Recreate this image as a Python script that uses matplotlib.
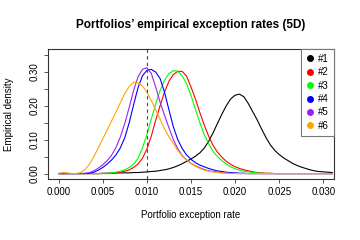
import numpy as np
import matplotlib
matplotlib.use("Agg")
import matplotlib.pyplot as plt
from matplotlib.lines import Line2D

plt.rcParams['font.family'] = ['Liberation Sans', 'DejaVu Sans']

# exception rate grid, step 0.0005 from 0 to 0.031
rate = np.round(np.arange(0, 0.0315, 0.0005), 4)

dens1 = [0]*10 + [0.001, 0.001, 0.001, 0.002, 0.002, 0.002, 0.002, 0.003, 0.003, 0.004,
                  0.005, 0.006, 0.007, 0.009, 0.011, 0.014, 0.018, 0.023, 0.029, 0.036,
                  0.043, 0.051, 0.061, 0.075, 0.095, 0.120, 0.148, 0.175, 0.200, 0.220,
                  0.231, 0.234, 0.226, 0.206, 0.182, 0.158, 0.131, 0.106, 0.084, 0.068,
                  0.056, 0.046, 0.038, 0.030, 0.024, 0.019, 0.015, 0.011, 0.008, 0.006,
                  0.005, 0.004, 0.003]
dens2 = [0]*12 + [0.001, 0.002, 0.004, 0.007, 0.011, 0.018, 0.028, 0.045,
                  0.072, 0.110, 0.157, 0.200, 0.240, 0.272, 0.292, 0.301, 0.301, 0.287,
                  0.255, 0.220, 0.180, 0.143, 0.110, 0.083, 0.063, 0.048, 0.036, 0.027,
                  0.020, 0.015, 0.011, 0.008, 0.005, 0.003, 0.002, 0.001, 0.001] + [0]*14
dens3 = [0]*11 + [0.001, 0.002, 0.004, 0.007, 0.011, 0.018, 0.028, 0.045, 0.075,
                  0.115, 0.160, 0.205, 0.245, 0.275, 0.295, 0.303, 0.302, 0.288, 0.265,
                  0.230, 0.190, 0.150, 0.115, 0.088, 0.065, 0.050, 0.038, 0.028, 0.020,
                  0.014, 0.010, 0.007, 0.005, 0.003, 0.002, 0.001] + [0]*16
dens4 = [0]*7 + [0.001, 0.004, 0.010,
                 0.018, 0.028, 0.040, 0.055, 0.076, 0.106, 0.150, 0.203, 0.253, 0.288,
                 0.304, 0.307, 0.299, 0.280, 0.240, 0.188, 0.138, 0.100, 0.074, 0.055,
                 0.042, 0.032, 0.025, 0.020, 0.015, 0.011, 0.008, 0.006, 0.004, 0.003,
                 0.002, 0.001, 0.001] + [0]*20
dens5 = [0]*6 + [0.001, 0.003, 0.008, 0.016,
                 0.026, 0.038, 0.054, 0.077, 0.108, 0.148, 0.195, 0.245, 0.285, 0.307,
                 0.312, 0.295, 0.255, 0.210, 0.172, 0.135, 0.100, 0.073, 0.053, 0.040,
                 0.030, 0.023, 0.017, 0.012, 0.008, 0.006, 0.004, 0.003, 0.002, 0.001,
                 0.001] + [0]*22
dens6 = [0.001, 0.003, 0.002, 0, 0, 0.003, 0.012, 0.028, 0.050, 0.076,
         0.102, 0.128, 0.155, 0.181, 0.209, 0.236, 0.257, 0.269, 0.268, 0.258,
         0.240, 0.215, 0.188, 0.160, 0.132, 0.108, 0.088, 0.068, 0.052, 0.040,
         0.030, 0.022, 0.015, 0.010, 0.007, 0.005, 0.003, 0.002, 0.001] + [0]*24

labels = ['#1', '#2', '#3', '#4', '#5', '#6']
colors = ['black', '#FF0000', '#00FF00', '#0000FF', '#A020F0', '#FFA500']
target = 0.01

fig = plt.figure(figsize=(3.6, 2.4), dpi=100)
ax = fig.add_axes([48/360, 1-179/240, (334-48)/360, (179-49)/240])

for d, col in zip([dens1, dens2, dens3, dens4, dens5, dens6], colors):
    ax.plot(rate, d, color=col, lw=0.8)

ax.axvline(target, color='#444444', lw=0.8, linestyle=(0, (3, 3)))

ax.set_xlim(-0.0012, 0.0312)
ax.set_ylim(-0.016, 0.367)
ax.set_xticks([0, 0.005, 0.01, 0.015, 0.02, 0.025, 0.03])
ax.set_xticklabels(['0.000', '0.005', '0.010', '0.015', '0.020', '0.025', '0.030'])
ax.set_yticks([0, 0.05, 0.1, 0.15, 0.2, 0.25, 0.3, 0.35])
ax.set_yticklabels(['0.00', '', '0.10', '', '0.20', '', '0.30', ''], rotation=90, va='center')
ax.tick_params(labelsize=7, length=3, width=0.7, color='#555555', pad=3)
for s in ax.spines.values():
    s.set_color('#333333')
    s.set_linewidth(0.8)

ax.set_title("Portfolios\u2019 empirical exception rates (5D)", fontsize=8.5, fontweight='bold', pad=15)
ax.set_xlabel('Portfolio exception rate', fontsize=7, labelpad=9)
ax.set_ylabel('Empirical density', fontsize=7, labelpad=11)

handles = [Line2D([], [], marker='o', ls='', color=c, markersize=4) for c in colors]
leg = ax.legend(handles, labels, loc='upper right', bbox_to_anchor=(1, 1), borderaxespad=0,
                fontsize=7, handlelength=0.8, handletextpad=0.5, borderpad=0.5,
                labelspacing=0.35, fancybox=False, framealpha=1)
leg.get_frame().set_edgecolor('#777777')
leg.get_frame().set_linewidth(0.8)

fig.savefig('out.png', dpi=100)
